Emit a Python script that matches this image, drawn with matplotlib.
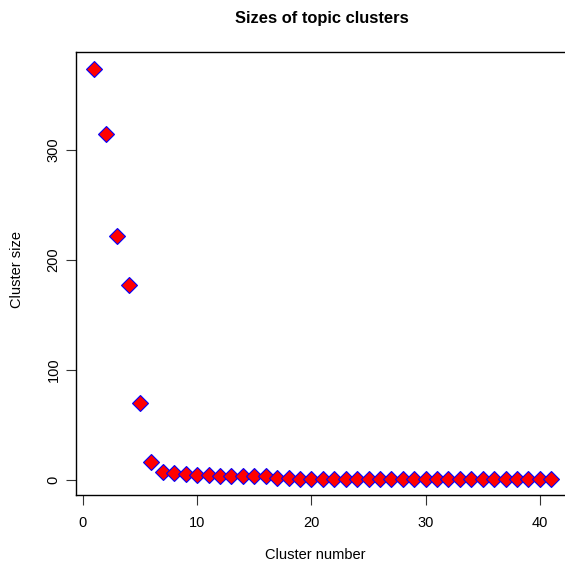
import matplotlib
matplotlib.use("Agg")
import matplotlib.pyplot as plt
import numpy as np

cluster_number = list(range(1, 42))
cluster_size = [374, 315, 222, 177, 70, 16, 7, 6, 5, 4, 4, 3, 3, 3, 3, 3, 2, 2,
                1, 1, 1, 1, 1, 1, 1, 1, 1, 1, 1, 1, 1, 1, 1, 1, 1, 1, 1, 1, 1, 1, 1]
x_ticks = [0, 10, 20, 30, 40]
y_ticks = [0, 100, 200, 300]

plt.rcParams['font.family'] = ['Liberation Sans', 'DejaVu Sans']

W, H = 565, 569
fig = plt.figure(figsize=(W / 100, H / 100), dpi=100)
left, right, top, bottom = 76, 569.6, 52.3, 495
ax = fig.add_axes([left / W, 1 - bottom / H, (right - left) / W, (bottom - top) / H])

ax.plot(cluster_number, cluster_size, linestyle='none', marker='D', markersize=8.2,
        markerfacecolor='red', markeredgecolor='blue', markeredgewidth=0.8, clip_on=False)

xmin, xmax = min(cluster_number), max(cluster_number)
ymin, ymax = min(cluster_size), max(cluster_size)
dx = (xmax - xmin) * 0.04
dy = (ymax - ymin) * 0.04
ax.set_xlim(xmin - dx, xmax + dx)
ax.set_ylim(ymin - dy, ymax + dy)
ax.set_xticks(x_ticks)
ax.set_yticks(y_ticks)
ax.set_yticklabels([str(v) for v in y_ticks], rotation=90, va='center')
ax.tick_params(direction='out', length=7, width=0.8, labelsize=10.5, color='#333333')
ax.tick_params(axis='x', pad=8)
ax.tick_params(axis='y', pad=4)
for s in ax.spines.values():
    s.set_linewidth(1.0)
    s.set_color('black')

fig.text(322 / W, 1 - 18 / H, 'Sizes of topic clusters', ha='center', va='center',
         fontsize=11.9, fontweight='bold')
fig.text(315 / W, 1 - 555 / H, 'Cluster number', ha='center', va='center', fontsize=10.5)
fig.text(17 / W, 1 - 270 / H, 'Cluster size', ha='center', va='center', fontsize=10.5, rotation=90)

fig.savefig('out.png', dpi=100)
